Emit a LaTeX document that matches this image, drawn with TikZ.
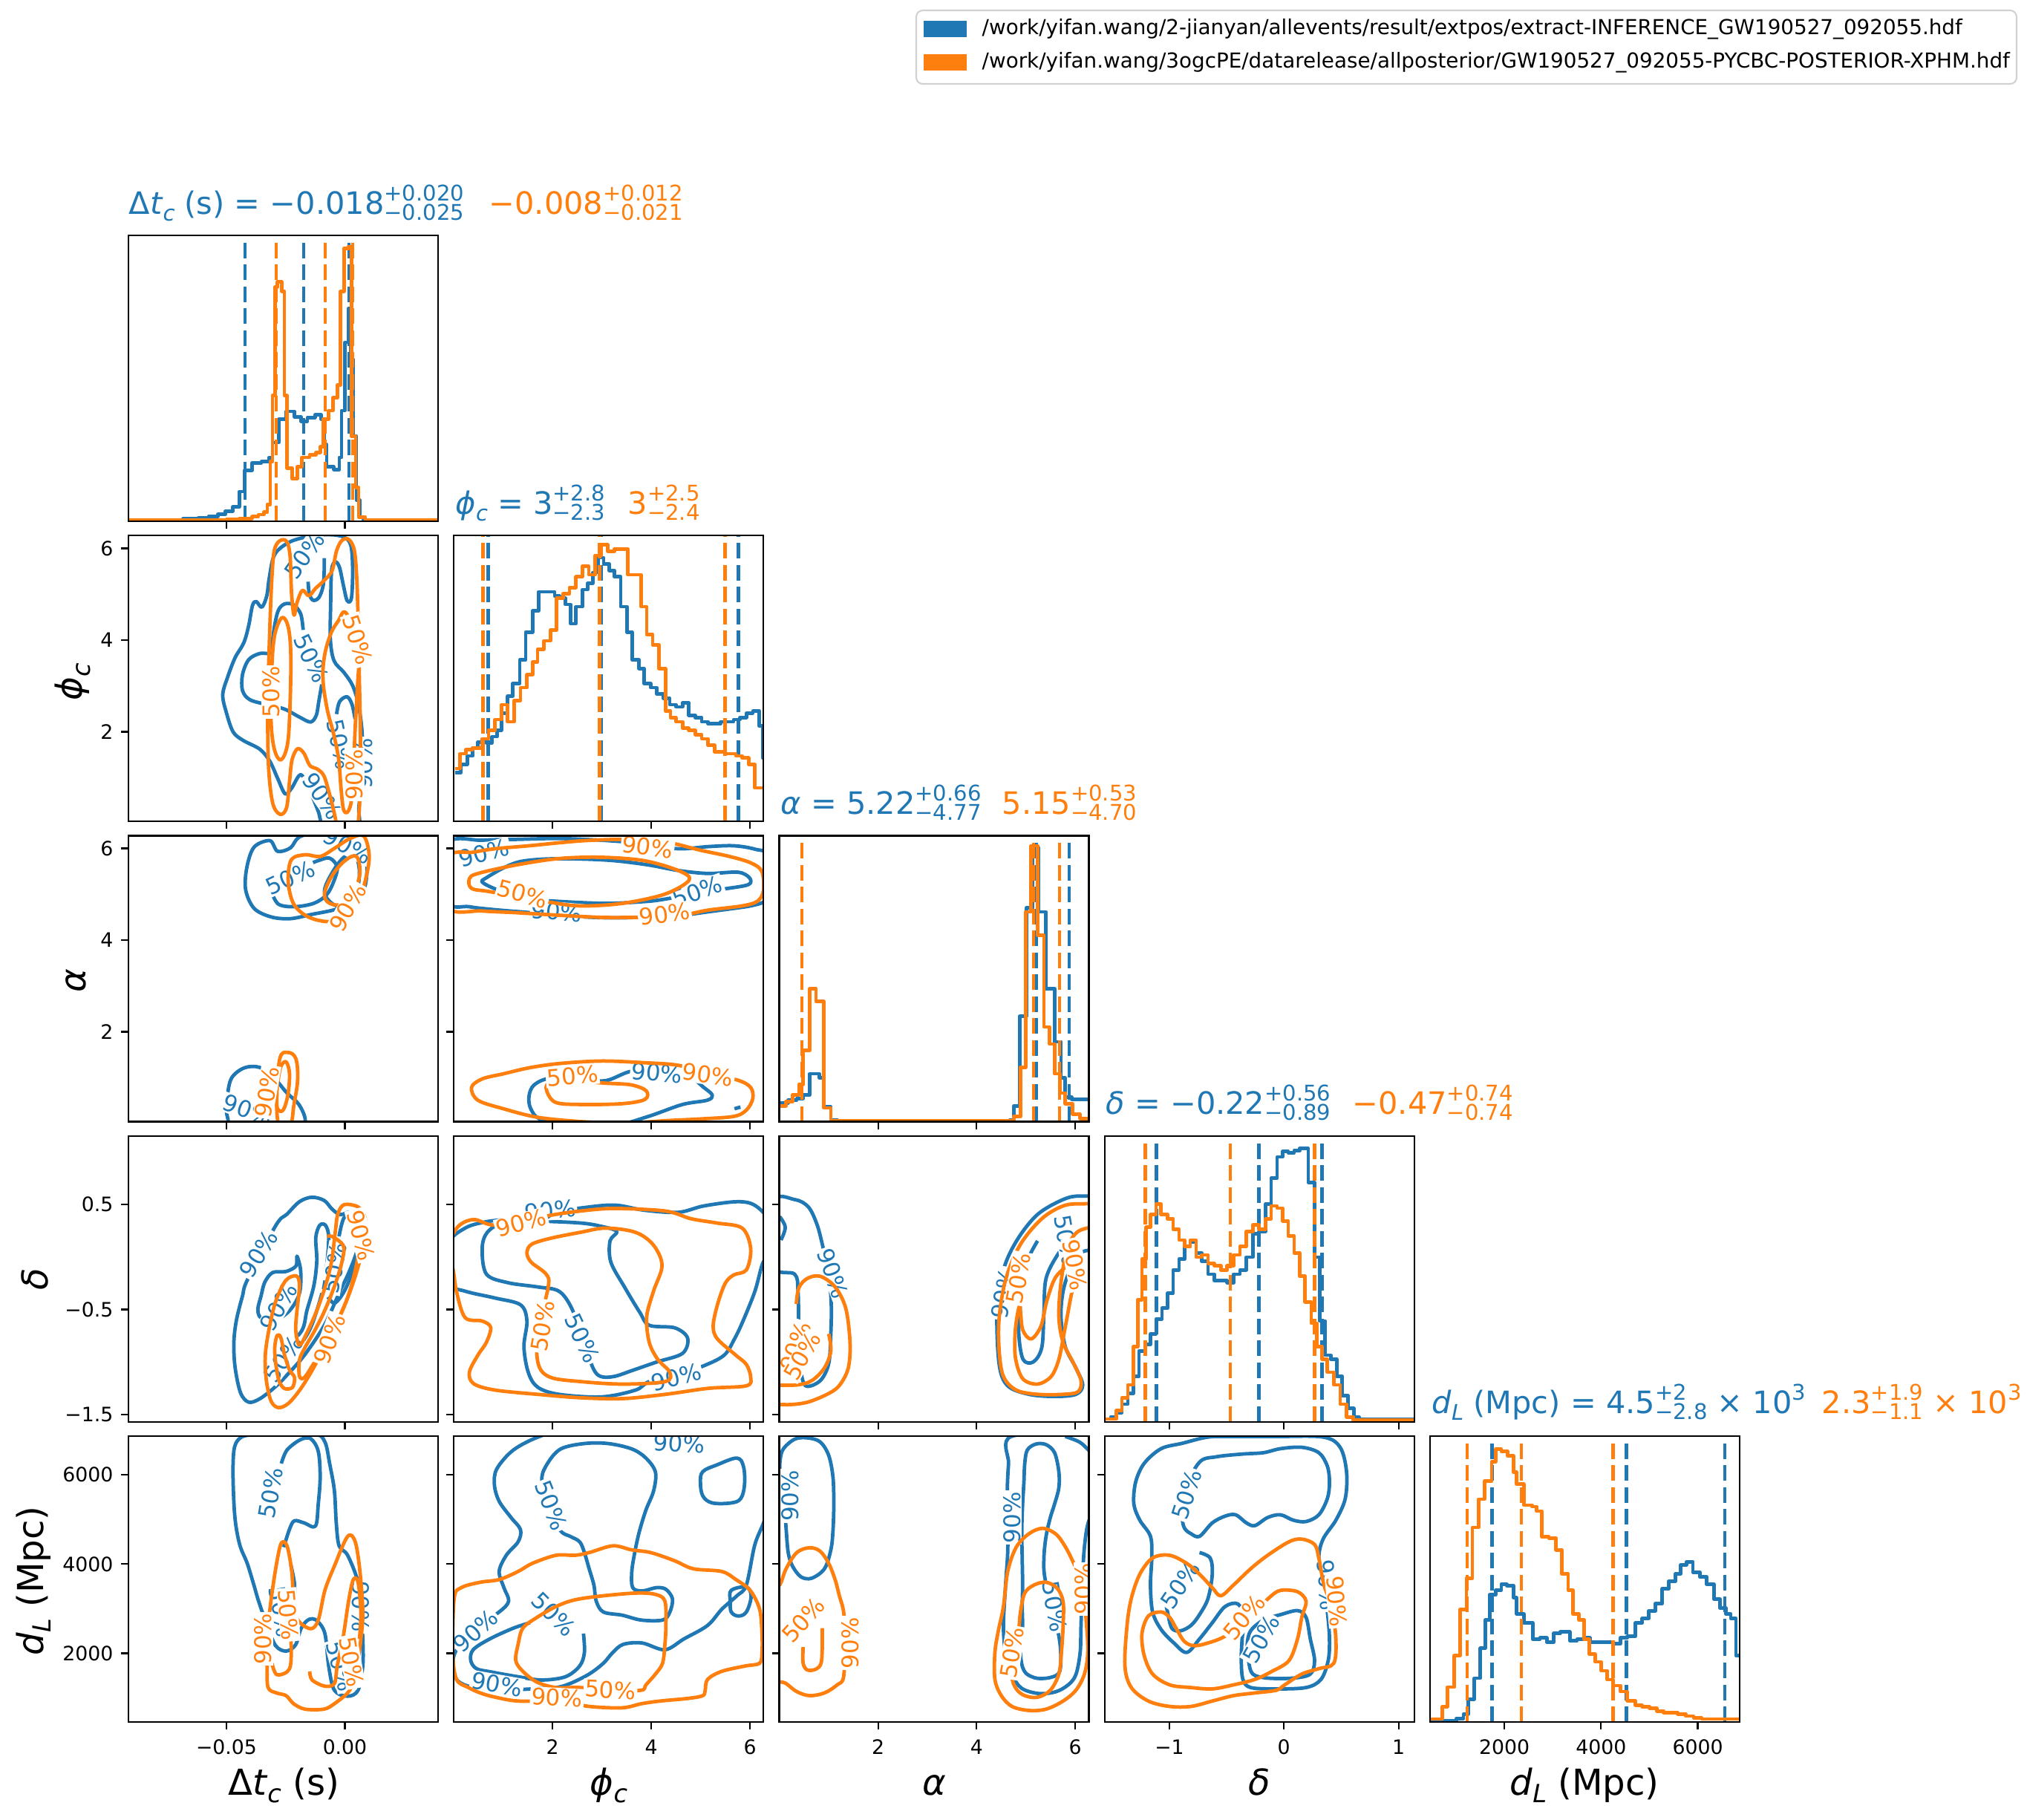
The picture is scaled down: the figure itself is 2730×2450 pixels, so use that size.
\documentclass[tikz,border=0pt]{standalone}
\usepackage{graphicx}
\usepackage{fontspec}
\setmainfont{DejaVu Sans}
\definecolor{cblue}{HTML}{1F77B4}
\definecolor{corange}{HTML}{FF7F0E}
\definecolor{legedge}{gray}{0.82}

\newcommand{\ticksize}{\fontsize{7.6pt}{9pt}\selectfont}
\newcommand{\clabsize}{\fontsize{8.8pt}{10pt}\selectfont}
\newcommand{\titsize}{\fontsize{11.8pt}{14pt}\selectfont}
\newcommand{\axsize}{\fontsize{13.7pt}{16pt}\selectfont}
\newcommand{\legsize}{\fontsize{7.9pt}{9pt}\selectfont}

% sub- and superscripts of the titles
\newcommand{\lowidx}[1]{\raisebox{-0.22em}{\scalebox{0.7}{#1}}}
\newcommand{\highidx}[1]{\raisebox{0.42em}{\scalebox{0.7}{#1}}}
\newsavebox{\pmqup}
\newsavebox{\pmqdn}
\newlength{\pmqwd}
\newcommand{\pmq}[2]{%
  \sbox{\pmqup}{\scalebox{0.7}{#1}}\sbox{\pmqdn}{\scalebox{0.7}{#2}}%
  \setlength{\pmqwd}{\wd\pmqup}%
  \ifdim\wd\pmqdn>\pmqwd\setlength{\pmqwd}{\wd\pmqdn}\fi
  \rlap{\raisebox{0.42em}{\usebox{\pmqup}}}\rlap{\raisebox{-0.2em}{\usebox{\pmqdn}}}\hspace*{\pmqwd}}

\begin{document}
\begin{tikzpicture}[x=0.01cm, y=-0.01cm,
  axbox/.style={draw=black, line width=0.6pt},
  tk/.style={draw=black, line width=0.6pt},
  cb/.style={draw=cblue, line width=1.35pt, line join=round},
  co/.style={draw=corange, line width=1.35pt, line join=round},
  qb/.style={draw=cblue, line width=1.35pt, dash pattern=on 0.21cm off 0.085cm},
  qo/.style={draw=corange, line width=1.35pt, dash pattern=on 0.21cm off 0.085cm},
  clab/.style={font=\clabsize, inner sep=0.5pt, fill=white},
  ticklab/.style={font=\ticksize, inner sep=0pt},
  axlab/.style={font=\axsize, inner sep=0pt},
  titl/.style={font=\titsize, inner sep=0pt, anchor=base west},
  z2/.style={shift={(150,220)}, scale=0.574},
  z3/.style={shift={(150,1050)}, scale=0.574},
  z4/.style={shift={(1030,1050)}, scale=0.574},
  z5/.style={shift={(60,1880)}, xscale=0.6378, yscale=0.3635},
  z6/.style={shift={(1030,1880)}, xscale=0.574, yscale=0.3635},
  z7/.style={shift={(1880,1820)}, xscale=0.542, yscale=0.4018},
  z9/.style={shift={(170,715)}, scale=0.3333},
  z10/.style={shift={(170,1525)}, scale=0.3333}
]
\useasboundingbox (0,0) rectangle (2730,2450);

% ---------- diagonal: Delta t_c
\begin{scope}
\clip (173,317) rectangle (590,702);
\begin{scope}[z2]
\draw[cb] (40,836) \foreach \e/\h in {168/834, 205/831, 228/828, 250/823, 268/816, 285/806, 300/770, 313/720, 330/703, 352/700, 370/690, 378/655, 393/600, 410/582, 430/595, 445/605, 460/596, 478/590, 492/600, 500/660, 505/712, 522/718, 535/690, 540/580, 548/420, 556/340, 562/460, 568/640, 575/790, 583/830, 592/836, 770/836} { -| (\e,\h) };
\end{scope}
\foreach \x in {330,409,470} \draw[qb] (\x,702) -- (\x,317);
\begin{scope}[z2]
\draw[co] (40,836) \foreach \e/\h in {270/835, 300/833, 330/829, 345/824, 358/818, 366/800, 373/700, 378/545, 384/290, 390/278, 400/300, 406/545, 412/715, 424/740, 436/712, 447/690, 465/684, 480/678, 490/665, 497/600, 510/580, 520/550, 530/520, 538/300, 546/200, 556/195, 563/640, 573/760, 580/830, 596/836, 770/836} { -| (\e,\h) };
\end{scope}
\foreach \x in {372,438,475} \draw[qo] (\x,702) -- (\x,317);
\end{scope}

% ---------- diagonal: phi_c
\begin{scope}
\clip (611.25,721.25) rectangle (1028.25,1106.25);
\begin{scope}[z2]
\draw[cb] (806,1430) \foreach \e/\h in {820/1410, 835/1390, 848/1372, 860/1358, 880/1360, 893/1345, 905/1330, 915/1290, 930/1250, 942/1220, 958/1165, 972/1100, 988/1050, 1002/1005, 1040/1015, 1052/1020, 1065/1035, 1078/1080, 1090/1040, 1105/1000, 1118/985, 1130/960, 1142/925, 1155/940, 1168/955, 1180/970, 1195/1040, 1210/1100, 1222/1165, 1238/1185, 1250/1220, 1265/1230, 1280/1245, 1295/1255, 1310/1270, 1325/1275, 1340/1265, 1355/1295, 1370/1300, 1385/1310, 1400/1315, 1430/1310, 1460/1305, 1475/1300, 1490/1290, 1505/1285, 1520/1320, 1528/1395, 1545/1395} { -| (\e,\h) };
\end{scope}
\foreach \x in {657.5,809.5,994.5} \draw[qb] (\x,1106.25) -- (\x,721.25);
\begin{scope}[z2]
\draw[co] (806,1420) \foreach \e/\h in {818/1385, 832/1375, 848/1372, 870/1350, 885/1330, 900/1305, 915/1270, 930/1310, 945/1260, 960/1230, 975/1200, 988/1170, 1000/1140, 1015/1120, 1030/1095, 1045/1020, 1060/1010, 1075/995, 1090/970, 1105/945, 1120/965, 1135/920, 1150/895, 1165/910, 1180/905, 1212/965, 1243/1040, 1256/1105, 1270/1130, 1285/1185, 1300/1285, 1312/1300, 1325/1310, 1340/1325, 1355/1330, 1370/1340, 1385/1350, 1400/1365, 1415/1380, 1440/1385, 1465/1390, 1480/1395, 1495/1410, 1510/1465, 1545/1470} { -| (\e,\h) };
\end{scope}
\foreach \x in {650.5,807.5,976.5} \draw[qo] (\x,1106.25) -- (\x,721.25);
\end{scope}

% ---------- diagonal: alpha
\begin{scope}
\clip (1049.5,1125.5) rectangle (1466.5,1510.5);
\begin{scope}[z4]
\draw[cb] (36,758) \foreach \e/\h in {55/752, 75/748, 90/740, 105/690, 128/700, 138/768, 155/798, 170/800, 575/798, 585/765, 598/555, 614/300, 628/160, 642/310, 660/490, 680/615, 695/700, 705/745, 720/750, 770/750} { -| (\e,\h) };
\end{scope}
\foreach \x in {1080,1396,1440} \draw[qb] (\x,1510.5) -- (\x,1125.5);
\begin{scope}[z4]
\draw[co] (36,765) \foreach \e/\h in {50/755, 65/740, 80/715, 90/635, 105/490, 120/520, 138/770, 155/800, 585/790, 600/675, 612/310, 625/155, 640/365, 655/580, 668/620, 680/690, 692/735, 705/760, 722/785, 740/795, 770/795} { -| (\e,\h) };
\end{scope}
\foreach \x in {1080,1392,1427} \draw[qo] (\x,1510.5) -- (\x,1125.5);
\end{scope}

% ---------- diagonal: delta
\begin{scope}
\clip (1487.75,1529.75) rectangle (1904.75,1914.75);
\begin{scope}[z4]
\draw[cb] (798,1500) \foreach \e/\h in {812/1495, 825/1485, 838/1465, 852/1440, 865/1400, 878/1340, 892/1325, 905/1300, 918/1265, 932/1240, 945/1205, 958/1150, 972/1125, 985/1095, 998/1085, 1012/1110, 1025/1130, 1040/1160, 1055/1175, 1085/1180, 1100/1160, 1115/1150, 1130/1120, 1145/1065, 1160/1060, 1175/995, 1188/935, 1202/885, 1215/872, 1228/875, 1242/870, 1255/865, 1275/945, 1290/1120, 1302/1270, 1315/1350, 1328/1360, 1342/1400, 1355/1445, 1368/1475, 1382/1495, 1395/1500, 1530/1500} { -| (\e,\h) };
\end{scope}
\foreach \x in {1557.6,1695.3,1780.3} \draw[qb] (\x,1914.75) -- (\x,1529.75);
\begin{scope}[z4]
\draw[co] (798,1500) \foreach \e/\h in {825/1480, 838/1450, 852/1420, 865/1330, 875/1220, 885/1125, 895/1050, 905/1020, 918/995, 930/1020, 945/1030, 958/1055, 972/1080, 985/1095, 998/1080, 1012/1120, 1025/1115, 1040/1135, 1055/1140, 1070/1150, 1085/1140, 1100/1115, 1115/1095, 1130/1060, 1145/1045, 1160/1055, 1175/1030, 1188/1000, 1202/1005, 1215/1035, 1228/1070, 1242/1110, 1255/1165, 1268/1225, 1282/1275, 1295/1330, 1308/1360, 1320/1390, 1335/1420, 1350/1465, 1365/1495, 1380/1502, 1530/1502} { -| (\e,\h) };
\end{scope}
\foreach \x in {1542.6,1656.9,1770.6} \draw[qo] (\x,1914.75) -- (\x,1529.75);
\end{scope}

% ---------- diagonal: d_L
\begin{scope}
\clip (1926,1934) rectangle (2343,2319);
\begin{scope}[z7]
\draw[cb] (86,1240) \foreach \e/\h in {120/1238, 150/1230, 168/1215, 180/1165, 195/1095, 210/995, 222/900, 233/815, 248/800, 262/780, 276/785, 292/825, 300/880, 318/910, 340/965, 358/960, 375/975, 392/945, 408/940, 432/970, 450/965, 468/960, 482/975, 540/980, 558/960, 575/955, 595/910, 612/895, 628/870, 645/845, 662/795, 678/770, 695/745, 708/715, 722/705, 738/740, 755/755, 772/780, 790/830, 805/860, 820/880, 832/895, 845/1020, 860/1020} { -| (\e,\h) };
\end{scope}
\foreach \x in {2009.5,2190.6,2323} \draw[qb] (\x,2319) -- (\x,1934);
\begin{scope}[z7]
\draw[co] (86,1232) \foreach \e/\h in {115/1190, 128/1125, 145/1020, 160/865, 175/760, 190/590, 205/495, 220/435, 238/370, 248/328, 262/335, 278/350, 292/405, 300/445, 318/515, 338/520, 350/535, 362/620, 380/625, 398/665, 412/745, 428/800, 440/880, 455/900, 468/965, 480/1015, 495/1040, 510/1070, 525/1100, 540/1120, 558/1140, 575/1170, 595/1185, 612/1190, 630/1195, 648/1205, 665/1210, 700/1215, 720/1222, 740/1228, 760/1232, 860/1232} { -| (\e,\h) };
\end{scope}
\foreach \x in {1976,2049,2172.7} \draw[qo] (\x,2319) -- (\x,1934);
\end{scope}

% ---------- phi_c vs Delta t_c
\begin{scope}
\clip (173,721.25) rectangle (590,1106.25);
\begin{scope}[z9]
\draw[cb] plot[smooth cycle, tension=0.55] coordinates {(578,190) (600,95) (660,45) (740,22) (820,15) (880,25) (908,60) (915,160) (910,272) (893,282) (878,222) (862,148) (845,125) (830,158) (826,300) (825,440) (840,525) (880,572) (915,625) (938,700) (952,800) (955,900) (950,1010) (940,1120) (935,1220) (810,1220) (775,1130) (740,1045) (705,985) (668,1040) (642,1062) (612,1000) (580,930) (540,882) (472,846) (432,812) (405,735) (390,662) (410,590) (440,512) (475,452) (495,382) (510,302) (525,285) (548,308) (568,262)};
\draw[cb] plot[smooth, tension=0.55] coordinates {(715,400) (705,335) (675,298) (640,295) (615,320) (600,380) (592,440) (588,492) (540,495) (495,520) (470,580) (470,645) (500,682) (570,702) (640,720) (700,752) (745,772) (768,745) (778,690) (790,620)};
\draw[cb] plot[smooth, tension=0.55] coordinates {(735,205) (740,255) (755,280) (778,270) (795,225) (800,160) (800,110)};
\draw[cb] plot[smooth, tension=0.55] coordinates {(850,740) (862,690) (892,670) (912,700) (925,760)};
\node[clab, text=cblue, rotate=55] at (720,100) {50\%};
\node[clab, text=cblue, rotate=-65] at (748,515) {50\%};
\node[clab, text=cblue, rotate=-78] at (862,862) {50\%};
\node[clab, text=cblue, rotate=-55] at (792,1072) {90\%};
\node[clab, text=cblue, rotate=90] at (962,940) {90\%};
\draw[co] plot[smooth cycle, tension=0.55] coordinates {(620,40) (598,80) (588,200) (580,400) (572,700) (575,950) (592,1100) (622,1145) (648,1118) (660,1010) (670,925) (692,880) (718,898) (742,948) (772,962) (798,988) (818,1050) (836,1120) (852,1190) (870,1240) (925,1240) (940,1150) (946,1000) (946,800) (942,600) (938,400) (932,200) (922,80) (900,35) (872,38) (850,80) (832,160) (800,200) (765,232) (738,262) (712,240) (690,290) (678,340) (668,250) (662,100) (648,42)};
\draw[co] plot[smooth cycle, tension=0.6] coordinates {(630,350) (655,390) (665,500) (662,700) (652,860) (625,925) (598,880) (585,760) (588,560) (600,420)};
\draw[co] plot[smooth cycle, tension=0.6] coordinates {(885,328) (858,362) (828,412) (802,500) (795,600) (812,720) (838,820) (858,920) (868,1040) (878,1125) (895,1135) (910,1090) (918,980) (925,800) (935,620) (940,520) (930,420)};
\node[clab, text=corange, rotate=90] at (585,650) {50\%};
\node[clab, text=corange, rotate=-72] at (935,440) {50\%};
\node[clab, text=corange, rotate=90] at (922,985) {90\%};
\end{scope}
\end{scope}

% ---------- alpha vs Delta t_c
\begin{scope}
\clip (173,1125.5) rectangle (590,1510.5);
\begin{scope}[z3]
\draw[cb] plot[smooth cycle, tension=0.55] coordinates {(318,205) (335,158) (372,143) (390,168) (420,160) (440,135) (480,125) (530,130) (575,145) (598,185) (595,250) (565,292) (520,306) (470,316) (420,326) (375,322) (335,302) (315,258)};
\draw[cb] plot[smooth, tension=0.55] coordinates {(375,262) (392,292) (430,298) (475,290) (505,270) (522,238) (530,205) (512,184) (485,190) (460,200)};
\draw[cb] plot[smooth cycle, tension=0.6] coordinates {(500,262) (520,215) (548,180) (572,178) (582,215) (575,262) (550,295) (520,292)};
\draw[cb] plot[smooth cycle, tension=0.55] coordinates {(272,745) (282,700) (312,676) (348,675) (382,700) (412,735) (440,762) (455,800) (440,840) (300,840) (272,790)};
\node[clab, text=cblue, rotate=25] at (420,230) {50\%};
\node[clab, text=cblue, rotate=-28] at (555,155) {90\%};
\node[clab, text=cblue, rotate=-20] at (320,775) {90\%};
\draw[co] plot[smooth cycle, tension=0.55] coordinates {(422,188) (455,176) (490,180) (525,160) (560,138) (592,132) (605,180) (595,240) (578,290) (548,320) (510,333) (462,322) (428,292) (415,240)};
\draw[co] plot[smooth cycle, tension=0.6] coordinates {(500,268) (518,225) (548,190) (575,180) (583,220) (568,265) (545,292) (512,290)};
\draw[co] plot[smooth cycle, tension=0.6] coordinates {(395,655) (415,640) (433,655) (437,705) (428,765) (420,810) (395,815) (388,760)};
\draw[co] plot[smooth cycle, tension=0.6] coordinates {(392,700) (398,672) (410,662) (418,690) (414,740) (403,775) (390,772) (386,735)};
\node[clab, text=corange, rotate=60] at (555,300) {90\%};
\node[clab, text=corange, rotate=80] at (365,732) {90\%};
\end{scope}
\end{scope}

% ---------- alpha vs phi_c
\begin{scope}
\clip (611.25,1125.5) rectangle (1028.25,1510.5);
\begin{scope}[z3]
\draw[cb] plot[smooth cycle, tension=0.55] coordinates {(790,150) (870,142) (950,140) (1050,138) (1150,142) (1250,150) (1330,162) (1400,157) (1460,155) (1510,163) (1545,180) (1550,270) (1531,287) (1500,296) (1460,302) (1400,310) (1340,318) (1290,320) (1200,324) (1110,322) (985,312) (900,305) (840,298) (790,285)};
\draw[cb] plot[smooth cycle, tension=0.55] coordinates {(870,240) (880,230) (920,207) (960,192) (1020,186) (1100,186) (1180,190) (1260,200) (1330,213) (1400,220) (1470,217) (1497,230) (1495,246) (1440,256) (1380,265) (1300,280) (1250,286) (1150,290) (1000,282) (950,272) (900,256)};
\draw[cb] plot[smooth cycle, tension=0.55] coordinates {(980,742) (992,716) (1030,700) (1100,702) (1160,706) (1220,684) (1290,684) (1350,692) (1390,722) (1410,740) (1398,752) (1340,762) (1260,790) (1180,812) (1100,812) (1010,798) (984,772)};
\draw[cb] (1462,772) -- (1476,768);
\node[clab, text=cblue, rotate=15] at (875,172) {90\%};
\node[clab, text=cblue, rotate=-5] at (1045,310) {90\%};
\node[clab, text=cblue, rotate=20] at (1375,262) {50\%};
\node[clab, text=cblue, rotate=-5] at (1280,688) {90\%};
\draw[co] plot[smooth cycle, tension=0.55] coordinates {(790,182) (850,170) (900,162) (980,155) (1050,148) (1110,143) (1190,140) (1260,142) (1320,150) (1380,165) (1450,180) (1500,195) (1526,215) (1530,260) (1516,285) (1480,296) (1400,306) (1350,316) (1290,322) (1230,323) (1150,323) (1050,318) (950,312) (870,308) (790,300)};
\draw[co] plot[smooth cycle, tension=0.55] coordinates {(840,232) (860,220) (950,200) (1050,185) (1150,182) (1250,190) (1330,213) (1356,235) (1300,268) (1200,290) (1100,296) (1020,286) (890,263) (845,255)};
\draw[co] plot[smooth cycle, tension=0.55] coordinates {(845,722) (870,702) (920,690) (980,676) (1050,666) (1150,660) (1250,664) (1330,670) (1400,690) (1470,705) (1500,722) (1505,748) (1490,775) (1460,790) (1380,796) (1300,800) (1200,806) (1100,802) (1000,792) (920,772) (860,752)};
\draw[co] plot[smooth cycle, tension=0.55] coordinates {(1020,722) (1040,706) (1100,708) (1160,712) (1220,716) (1255,730) (1252,750) (1200,760) (1100,762) (1040,756)};
\node[clab, text=corange, rotate=-8] at (1258,158) {90\%};
\node[clab, text=corange, rotate=-15] at (965,268) {50\%};
\node[clab, text=corange, rotate=8] at (1298,315) {90\%};
\node[clab, text=corange, rotate=5] at (1082,695) {50\%};
\node[clab, text=corange, rotate=-8] at (1400,692) {90\%};
\end{scope}
\end{scope}

% ---------- delta vs Delta t_c
\begin{scope}
\clip (173,1529.75) rectangle (590,1914.75);
\begin{scope}[z10]
\draw[cb] plot[smooth cycle, tension=0.55] coordinates {(605,375) (650,330) (700,280) (750,262) (800,275) (832,310) (865,332) (905,322) (940,345) (948,400) (932,480) (900,565) (860,650) (800,780) (720,900) (650,980) (600,1030) (540,1076) (495,1090) (462,1052) (440,950) (435,850) (445,760) (470,660) (490,595)};
\draw[cb] plot[smooth cycle, tension=0.55] coordinates {(690,500) (686,540) (645,562) (592,566) (560,605) (545,660) (532,715) (545,750) (600,760) (660,720) (700,650) (705,560)};
\draw[cb] plot[smooth cycle, tension=0.55] coordinates {(710,800) (730,720) (758,620) (770,520) (766,425) (782,375) (805,375) (818,420) (812,520) (798,620) (770,720) (740,800) (690,880) (640,950) (610,975) (600,950) (640,880)};
\draw[cb] plot[smooth, tension=0.55] coordinates {(860,420) (880,345) (920,330) (945,400) (930,500) (900,600) (870,660) (840,690) (815,665)};
\node[clab, text=cblue, rotate=58] at (535,490) {90\%};
\node[clab, text=cblue, rotate=60] at (615,705) {90\%};
\node[clab, text=cblue, rotate=80] at (842,548) {50\%};
\node[clab, text=cblue, rotate=55] at (635,915) {50\%};
\draw[co] plot[smooth cycle, tension=0.55] coordinates {(880,292) (935,300) (962,335) (968,395) (955,470) (932,560) (898,660) (855,760) (805,860) (752,960) (702,1040) (655,1095) (615,1112) (585,1085) (566,1000) (562,900) (578,790) (605,680) (645,598) (688,580) (700,620) (690,720) (685,800) (700,860) (730,810) (770,720) (805,620) (830,520) (845,400) (855,330)};
\draw[co] plot[smooth cycle, tension=0.55] coordinates {(610,820) (625,830) (640,900) (660,960) (680,990) (672,1030) (640,1035) (618,1005) (605,940) (600,870)};
\draw[co] plot[smooth, tension=0.55] coordinates {(812,420) (835,422) (878,460) (870,530) (842,620) (802,720) (762,800) (722,870) (700,920) (700,985) (720,990) (760,930) (810,850) (855,760) (890,680) (915,600) (935,510) (945,420) (930,350) (900,320)};
\node[clab, text=corange, rotate=70] at (822,835) {90\%};
\node[clab, text=corange, rotate=-75] at (948,415) {90\%};
\end{scope}
\end{scope}

% ---------- delta vs phi_c
\begin{scope}
\clip (611.25,1529.75) rectangle (1028.25,1914.75);
\begin{scope}[z3]
\draw[cb] plot[smooth cycle, tension=0.55] coordinates {(790,1090) (830,1052) (880,1037) (940,1030) (1030,1015) (1100,1005) (1180,998) (1250,1010) (1330,1015) (1390,1000) (1470,990) (1512,1000) (1545,1040) (1545,1110) (1528,1135) (1510,1200) (1482,1270) (1462,1312) (1438,1350) (1390,1375) (1330,1395) (1262,1412) (1230,1432) (1150,1448) (1050,1442) (1000,1425) (978,1390) (968,1330) (975,1270) (960,1232) (900,1216) (830,1200) (790,1180)};
\draw[cb] plot[smooth cycle, tension=0.55] coordinates {(870,1100) (880,1160) (930,1180) (1000,1190) (1050,1200) (1080,1240) (1105,1310) (1130,1380) (1148,1400) (1180,1400) (1225,1385) (1280,1366) (1340,1346) (1352,1310) (1322,1286) (1262,1280) (1240,1250) (1205,1192) (1172,1132) (1170,1082) (1186,1060) (1150,1048) (1100,1040) (1000,1036) (920,1040) (882,1062)};
\node[clab, text=cblue, rotate=5] at (1030,1010) {90\%};
\node[clab, text=cblue, rotate=-65] at (1105,1310) {50\%};
\node[clab, text=cblue, rotate=15] at (1325,1402) {90\%};
\draw[co] plot[smooth cycle, tension=0.55] coordinates {(790,1100) (812,1050) (850,1032) (905,1045) (1030,1022) (1100,1012) (1180,1006) (1300,1012) (1360,1030) (1420,1040) (1480,1052) (1500,1100) (1490,1150) (1460,1162) (1440,1182) (1422,1232) (1412,1282) (1422,1312) (1465,1350) (1490,1372) (1500,1402) (1490,1422) (1400,1428) (1300,1442) (1200,1452) (1100,1450) (1000,1442) (900,1432) (850,1417) (840,1390) (860,1350) (880,1320) (890,1285) (870,1270) (830,1262) (810,1202) (802,1150)};
\draw[co] plot[smooth cycle, tension=0.55] coordinates {(1025,1190) (1020,1160) (985,1132) (975,1110) (986,1090) (1030,1076) (1100,1062) (1160,1052) (1230,1062) (1272,1092) (1292,1140) (1272,1200) (1256,1260) (1262,1320) (1282,1360) (1310,1390) (1300,1412) (1200,1418) (1100,1412) (1030,1402) (1002,1372) (1000,1300)};
\node[clab, text=corange, rotate=15] at (962,1040) {90\%};
\node[clab, text=corange, rotate=80] at (1012,1282) {50\%};
\end{scope}
\end{scope}

% ---------- delta vs alpha
\begin{scope}
\clip (1049.5,1529.75) rectangle (1466.5,1914.75);
\begin{scope}[z4]
\draw[cb] plot[smooth cycle, tension=0.55] coordinates {(20,990) (70,985) (102,1002) (122,1042) (135,1090) (150,1160) (156,1230) (155,1300) (150,1370) (130,1410) (96,1422) (84,1380) (80,1300) (78,1200) (70,1160) (20,1140)};
\draw[cb] plot[smooth, tension=0.6] coordinates {(35,1025) (48,1050) (38,1080)};
\draw[cb] plot[smooth cycle, tension=0.55] coordinates {(545,1250) (560,1150) (592,1080) (640,1020) (700,985) (740,977) (780,990) (780,1090) (742,1110) (716,1150) (700,1200) (695,1260) (705,1330) (730,1380) (746,1420) (730,1442) (680,1447) (620,1442) (570,1422) (550,1372)};
\draw[cb] plot[smooth, tension=0.55] coordinates {(730,1060) (690,1110) (660,1170) (655,1250) (650,1332) (630,1366) (606,1360) (596,1300) (600,1230) (612,1140) (640,1082)};
\node[clab, text=cblue, rotate=-70] at (160,1158) {90\%};
\node[clab, text=cblue, rotate=80] at (560,1205) {90\%};
\node[clab, text=cblue, rotate=-80] at (708,1080) {50\%};
\draw[co] plot[smooth, tension=0.55] coordinates {(20,1465) (60,1466) (102,1460) (150,1440) (176,1420) (196,1380) (200,1320) (190,1240) (165,1190) (130,1165) (100,1170) (80,1192) (74,1230)};
\draw[co] plot[smooth, tension=0.55] coordinates {(20,1420) (75,1420) (110,1410) (140,1380) (155,1340) (150,1300)};
\draw[co] plot[smooth cycle, tension=0.55] coordinates {(550,1262) (566,1170) (600,1090) (650,1030) (700,1000) (745,995) (790,1000) (790,1040) (735,1060) (710,1100) (695,1180) (690,1260) (700,1320) (725,1370) (742,1410) (735,1436) (700,1442) (640,1442) (590,1432) (560,1400) (550,1340)};
\draw[co] plot[smooth cycle, tension=0.55] coordinates {(598,1235) (605,1290) (625,1312) (648,1282) (662,1222) (682,1168) (712,1142) (726,1165) (715,1230) (702,1300) (690,1360) (672,1400) (640,1418) (605,1405) (588,1355) (588,1290)};
\node[clab, text=corange, rotate=70] at (72,1330) {90\%};
\node[clab, text=corange, rotate=60] at (88,1352) {50\%};
\node[clab, text=corange, rotate=80] at (595,1170) {50\%};
\node[clab, text=corange, rotate=-80] at (728,1138) {90\%};
\end{scope}
\end{scope}

% ---------- d_L vs Delta t_c
\begin{scope}
\clip (173,1934) rectangle (590,2319);
\begin{scope}[z5]
\draw[cb] plot[smooth cycle, tension=0.55] coordinates {(410,160) (400,200) (398,300) (402,450) (412,550) (428,620) (442,700) (452,760) (470,850) (488,925) (510,945) (530,922) (542,860) (558,828) (575,832) (592,880) (600,1000) (612,1090) (640,1112) (662,1090) (672,1000) (672,900) (668,800) (662,690) (640,590) (622,555) (616,470) (612,350) (602,250) (592,170) (570,140) (490,140) (430,145)};
\draw[cb] plot[smooth, tension=0.55] coordinates {(500,250) (512,200) (540,162) (562,158) (578,205) (582,300) (578,400) (572,482) (548,470) (528,462) (518,490) (505,560)};
\draw[cb] plot[smooth, tension=0.55] coordinates {(520,625) (528,700) (526,780)};
\node[clab, text=cblue, rotate=80] at (478,360) {50\%};
\node[clab, text=cblue, rotate=-80] at (500,800) {50\%};
\node[clab, text=cblue, rotate=-75] at (625,1000) {50\%};
\node[clab, text=cblue, rotate=-90] at (668,780) {90\%};
\draw[co] plot[smooth cycle, tension=0.55] coordinates {(470,1000) (470,900) (478,760) (490,620) (500,545) (512,555) (522,650) (526,760) (535,830) (562,862) (578,830) (592,720) (612,630) (640,520) (656,540) (666,650) (672,800) (668,900) (660,1000) (650,1065) (640,1100) (612,1140) (590,1160) (550,1160) (526,1140) (510,1110) (490,1100) (472,1080)};
\draw[co] plot[smooth, tension=0.55] coordinates {(480,990) (490,1032) (512,1022) (520,990) (520,900) (512,860) (500,800) (495,720)};
\draw[co] plot[smooth, tension=0.55] coordinates {(560,1020) (565,1052) (592,1075) (612,1065) (618,1000) (630,900) (642,760) (652,680) (662,690) (668,800) (665,900)};
\node[clab, text=corange, rotate=90] at (462,900) {90\%};
\node[clab, text=corange, rotate=-85] at (515,810) {50\%};
\node[clab, text=corange, rotate=-80] at (648,985) {50\%};
\end{scope}
\end{scope}

% ---------- d_L vs phi_c
\begin{scope}
\clip (611.25,1934) rectangle (1028.25,2319);
\begin{scope}[z5]
\draw[cb] plot[smooth cycle, tension=0.55] coordinates {(1045,150) (990,200) (955,270) (950,330) (960,390) (985,450) (1005,495) (1000,540) (975,590) (960,650) (970,710) (980,760) (960,800) (910,860) (870,940) (862,1000) (870,1050) (895,1075) (950,1090) (1030,1085) (1080,1080) (1110,1065) (1150,1030) (1180,990) (1200,950) (1222,920) (1262,915) (1310,940) (1350,900) (1400,850) (1430,790) (1462,740) (1482,700) (1500,550) (1522,450) (1540,300) (1530,160) (1520,120) (1300,120) (1100,130)};
\draw[cb] plot[smooth cycle, tension=0.55] coordinates {(1050,310) (1062,250) (1090,196) (1140,176) (1190,176) (1240,196) (1270,230) (1290,282) (1286,352) (1270,422) (1256,502) (1246,582) (1240,652) (1242,710) (1262,722) (1292,710) (1312,716) (1326,752) (1320,802) (1305,830) (1260,830) (1220,812) (1180,800) (1165,760) (1160,700) (1150,640) (1140,580) (1130,540) (1110,520) (1090,500) (1062,420)};
\draw[cb] plot[smooth, tension=0.55] coordinates {(1025,840) (990,860) (940,900) (905,940) (900,980) (912,1010) (942,1022) (1000,1040) (1050,1052) (1100,1040) (1130,1000) (1140,950) (1138,880)};
\draw[cb] plot[smooth cycle, tension=0.6] coordinates {(1390,280) (1420,255) (1462,230) (1476,262) (1478,330) (1470,380) (1450,396) (1410,396) (1390,370) (1385,320)};
\draw[cb] plot[smooth cycle, tension=0.6] coordinates {(1450,720) (1482,708) (1492,742) (1482,800) (1465,815) (1450,800) (1448,760)};
\node[clab, text=cblue, rotate=-3] at (1340,175) {90\%};
\node[clab, text=cblue, rotate=-68] at (1070,405) {50\%};
\node[clab, text=cblue, rotate=-45] at (1075,808) {50\%};
\node[clab, text=cblue, rotate=42] at (910,870) {90\%};
\node[clab, text=cblue, rotate=-10] at (955,1068) {90\%};
\draw[co] plot[smooth cycle, tension=0.55] coordinates {(865,750) (880,710) (920,690) (960,680) (1000,650) (1030,620) (1080,590) (1120,590) (1150,580) (1200,555) (1240,570) (1280,580) (1330,610) (1370,640) (1430,650) (1460,680) (1490,720) (1510,790) (1515,880) (1515,950) (1510,990) (1480,1000) (1430,1020) (1400,1050) (1395,1090) (1390,1110) (1360,1120) (1300,1130) (1260,1140) (1220,1155) (1150,1150) (1085,1130) (1000,1130) (950,1115) (920,1100) (895,1080) (870,1050) (862,950)};
\draw[co] plot[smooth cycle, tension=0.55] coordinates {(1000,920) (1010,860) (1040,820) (1080,780) (1120,755) (1180,740) (1250,730) (1290,735) (1310,760) (1312,850) (1310,920) (1305,990) (1290,1030) (1270,1070) (1260,1090) (1200,1090) (1130,1080) (1080,1080) (1040,1060) (1010,1020) (995,980)};
\node[clab, text=corange, rotate=-3] at (1082,1118) {90\%};
\node[clab, text=corange, rotate=-3] at (1195,1088) {50\%};
\end{scope}
\end{scope}

% ---------- d_L vs alpha
\begin{scope}
\clip (1049.5,1934) rectangle (1466.5,2319);
\begin{scope}[z6]
\draw[cb] plot[smooth cycle, tension=0.55] coordinates {(35,260) (42,200) (70,160) (100,155) (130,170) (150,220) (160,300) (162,400) (160,500) (155,570) (140,640) (110,675) (85,670) (65,630) (55,580) (50,490) (45,380) (40,300)};
\draw[cb] plot[smooth cycle, tension=0.55] coordinates {(578,150) (572,250) (569,350) (570,470) (570,580) (565,700) (560,850) (565,950) (580,1030) (602,1082) (642,1102) (682,1096) (712,1070) (730,1032) (740,950) (742,850) (745,700) (750,560) (761,460) (790,400) (790,150) (740,140)};
\draw[cb] plot[smooth, tension=0.6] coordinates {(705,150) (740,172) (765,210)};
\draw[cb] plot[smooth cycle, tension=0.55] coordinates {(610,250) (616,200) (636,178) (660,180) (680,210) (690,280) (690,340) (680,400) (670,450) (660,520) (655,600) (658,680) (685,850) (694,940) (692,1020) (672,1042) (640,1046) (615,1030) (604,1000) (600,950) (603,900) (605,850) (604,780) (605,700) (604,600) (603,500) (605,400) (608,320)};
\node[clab, text=cblue, rotate=90] at (60,370) {90\%};
\node[clab, text=cblue, rotate=90] at (580,450) {90\%};
\node[clab, text=cblue, rotate=-80] at (680,780) {50\%};
\draw[co] plot[smooth cycle, tension=0.55] coordinates {(10,740) (35,700) (50,640) (75,580) (105,562) (130,575) (150,620) (165,680) (175,740) (185,800) (188,900) (185,1040) (170,1070) (140,1100) (105,1110) (75,1095) (50,1065) (10,1020)};
\draw[co] plot[smooth, tension=0.55] coordinates {(135,860) (135,930) (132,990) (120,1012) (100,1015) (90,990) (90,930)};
\draw[co] plot[smooth cycle, tension=0.55] coordinates {(560,780) (570,650) (590,560) (620,510) (652,490) (682,510) (702,550) (722,610) (745,700) (755,850) (758,950) (750,1030) (730,1090) (700,1130) (660,1160) (620,1165) (580,1150) (555,1110) (540,1050) (540,950) (548,870)};
\draw[co] plot[smooth cycle, tension=0.55] coordinates {(600,800) (610,730) (632,700) (660,690) (686,712) (700,762) (700,850) (696,950) (690,1030) (670,1090) (640,1116) (610,1110) (590,1085) (580,1040) (585,960) (595,880)};
\node[clab, text=corange, rotate=48] at (90,830) {50\%};
\node[clab, text=corange, rotate=90] at (200,915) {90\%};
\node[clab, text=corange, rotate=90] at (748,715) {90\%};
\node[clab, text=corange, rotate=80] at (580,950) {50\%};
\end{scope}
\end{scope}

% ---------- d_L vs delta
\begin{scope}
\clip (1487.75,1934) rectangle (1904.75,2319);
\begin{scope}[z6]
\draw[cb] plot[smooth cycle, tension=0.55] coordinates {(1040,152) (1100,150) (1200,150) (1310,152) (1350,190) (1365,280) (1362,380) (1340,460) (1310,530) (1300,600) (1310,700) (1320,800) (1325,900) (1322,980) (1305,1050) (1270,1080) (1200,1085) (1140,1080) (1122,1050) (1118,980) (1120,900) (1125,820) (1110,770) (1080,780) (1050,840) (1020,900) (990,950) (960,915) (930,865) (910,800) (905,700) (908,600) (905,520) (880,460) (866,400) (870,320) (890,250) (930,195) (980,175)};
\draw[cb] plot[smooth cycle, tension=0.55] coordinates {(1020,245) (1060,225) (1120,215) (1170,210) (1210,195) (1260,190) (1300,210) (1320,260) (1325,320) (1320,380) (1300,440) (1270,465) (1240,460) (1210,440) (1180,450) (1150,480) (1130,470) (1105,440) (1080,445) (1050,470) (1020,520) (1000,510) (985,490) (980,450) (985,350)};
\draw[cb] plot[smooth, tension=0.55] coordinates {(1020,580) (1045,600) (1050,660) (1040,750) (1020,810) (1000,850) (975,870) (955,860) (945,800) (940,760)};
\draw[cb] plot[smooth cycle, tension=0.55] coordinates {(1210,810) (1250,795) (1270,820) (1280,900) (1290,980) (1280,1030) (1240,1045) (1180,1045) (1145,1030) (1135,980) (1132,920) (1140,870) (1170,830)};
\node[clab, text=cblue, rotate=72] at (990,365) {50\%};
\node[clab, text=cblue, rotate=55] at (975,700) {50\%};
\node[clab, text=cblue, rotate=60] at (1165,900) {50\%};
\node[clab, text=cblue, rotate=-85] at (1320,700) {90\%};
\draw[co] plot[smooth cycle, tension=0.55] coordinates {(850,850) (860,750) (880,660) (910,600) (950,590) (990,620) (1020,660) (1050,710) (1070,740) (1100,700) (1140,640) (1180,590) (1230,540) (1260,530) (1290,550) (1300,600) (1312,700) (1330,780) (1340,900) (1335,990) (1300,1010) (1260,1030) (1220,1070) (1200,1090) (1150,1100) (1100,1110) (1050,1130) (1000,1150) (950,1150) (900,1130) (860,1080) (845,1000)};
\draw[co] plot[smooth cycle, tension=0.55] coordinates {(1080,890) (1050,910) (1010,925) (985,910) (965,860) (950,820) (930,800) (900,815) (885,880) (890,960) (910,1030) (950,1070) (1000,1080) (1050,1085) (1100,1070) (1150,1050) (1190,1020) (1230,980) (1250,900) (1260,820) (1270,760) (1250,725) (1210,720) (1185,745) (1150,800) (1120,850)};
\node[clab, text=corange, rotate=50] at (1125,820) {50\%};
\node[clab, text=corange, rotate=-85] at (1342,760) {90\%};
\end{scope}
\end{scope}

% ---------- axes boxes
\foreach \r in {1,...,5} \foreach \c in {1,...,\r} {
  \draw[axbox] ({173+438.25*(\c-1)},{317+404.25*(\r-1)}) rectangle ++(417,385);
}

% ---------- ticks
\foreach \r in {1,...,5} \foreach \x in {305,464.5} \draw[tk] (\x,{702+404.25*(\r-1)}) -- ++(0,10);
\foreach \r in {2,...,5} \foreach \x in {744,877,1010} \draw[tk] (\x,{702+404.25*(\r-1)}) -- ++(0,10);
\foreach \r in {3,...,5} \foreach \x in {1182.7,1315.3,1448} \draw[tk] (\x,{702+404.25*(\r-1)}) -- ++(0,10);
\foreach \r in {4,5} \foreach \x in {1575,1729,1883.6} \draw[tk] (\x,{702+404.25*(\r-1)}) -- ++(0,10);
\foreach \x in {2026,2156.4,2286.5} \draw[tk] (\x,2319) -- ++(0,10);
\foreach \y in {738.5,862,985.5} \draw[tk] (173,\y) -- ++(-10,0);
\foreach \c in {1,2} \foreach \y in {1142.5,1266,1389.5} \draw[tk] ({173+438.25*(\c-1)},\y) -- ++(-10,0);
\foreach \c in {1,2,3} \foreach \y in {1621.7,1763.5,1905.3} \draw[tk] ({173+438.25*(\c-1)},\y) -- ++(-10,0);
\foreach \c in {1,...,4} \foreach \y in {1986,2106.3,2226.5} \draw[tk] ({173+438.25*(\c-1)},\y) -- ++(-10,0);

% ---------- tick labels
\foreach \x/\t in {305/−0.05, 464.5/0.00, 744/2, 877/4, 1010/6, 1182.7/2, 1315.3/4, 1448/6, 1575/−1, 1729/0, 1883.6/1, 2026/2000, 2156.4/4000, 2286.5/6000}
  \node[ticklab, anchor=base] at (\x,2362) {\t};
\foreach \y/\t in {738.5/6, 862/4, 985.5/2, 1142.5/6, 1266/4, 1389.5/2, 1621.7/0.5, 1763.5/−0.5, 1905.3/−1.5, 1986/6000, 2106.3/4000, 2226.5/2000}
  \node[ticklab, anchor=east] at (153,\y) {\t};

% ---------- axis labels
\node[axlab, anchor=base] (xdt) at (382,2417) {Δ\textit{t}\lowidx{\textit{c}} (s)};
\node[axlab, anchor=base] (xphi) at (820,2417) {\textit{ϕ}\lowidx{\textit{c}}};
\node[axlab, anchor=base] (xra) at (1258,2417) {\textit{α}};
\node[axlab, anchor=base] (xdec) at (1696,2417) {\textit{δ}};
\node[axlab, anchor=base] (xdl) at (2134,2417) {\textit{d}\lowidx{\textit{L}} (Mpc)};
\node[axlab, rotate=90] (yphi) at (98,918) {\textit{ϕ}\lowidx{\textit{c}}};
\node[axlab, rotate=90] (yra) at (102,1321) {\textit{α}};
\node[axlab, rotate=90] (ydec) at (47,1723) {\textit{δ}};
\node[axlab, rotate=90] (ydl) at (45,2129) {\textit{d}\lowidx{\textit{L}} (Mpc)};

% ---------- titles
\node[titl, text=cblue] (tdt) at (173,288) {Δ\textit{t}\lowidx{\textit{c}} (s) = −0.018\pmq{+0.020}{−0.025}};
\node[titl, text=corange] (tdt2) at (658,288) {−0.008\pmq{+0.012}{−0.021}};
\node[titl, text=cblue] (tphi) at (613,692) {\textit{ϕ}\lowidx{\textit{c}} = 3\pmq{+2.8}{−2.3}};
\node[titl, text=corange] (tphi2) at (845,692) {3\pmq{+2.5}{−2.4}};
\node[titl, text=cblue] (tra) at (1051,1096) {\textit{α} = 5.22\pmq{+0.66}{−4.77}};
\node[titl, text=corange] (tra2) at (1349,1096) {5.15\pmq{+0.53}{−4.70}};
\node[titl, text=cblue] (tdec) at (1489,1500) {\textit{δ} = −0.22\pmq{+0.56}{−0.89}};
\node[titl, text=corange] (tdec2) at (1821,1500) {−0.47\pmq{+0.74}{−0.74}};
\node[titl, text=cblue] (tdl) at (1928,1903) {\textit{d}\lowidx{\textit{L}} (Mpc) = 4.5\pmq{+2}{−2.8} × 10\highidx{3}};
\node[titl, text=corange] (tdl2) at (2453,1903) {2.3\pmq{+1.9}{−1.1} × 10\highidx{3}};

% ---------- legend
\draw[draw=legedge, fill=white, line width=0.6pt, rounded corners=2.5pt] (1234,14) rectangle (2716,113);
\fill[cblue] (1244,28) rectangle (1302,50);
\fill[corange] (1244,73) rectangle (1302,95);
\node[font=\legsize, anchor=west, inner sep=0pt] (leg1) at (1322,39) {/work/yifan.wang/2-jianyan/allevents/result/extpos/extract-INFERENCE\_GW190527\_092055.hdf};
\node[font=\legsize, anchor=west, inner sep=0pt] (leg2) at (1322,84) {/work/yifan.wang/3ogcPE/datarelease/allposterior/GW190527\_092055-PYCBC-POSTERIOR-XPHM.hdf};
\end{tikzpicture}
\end{document}
